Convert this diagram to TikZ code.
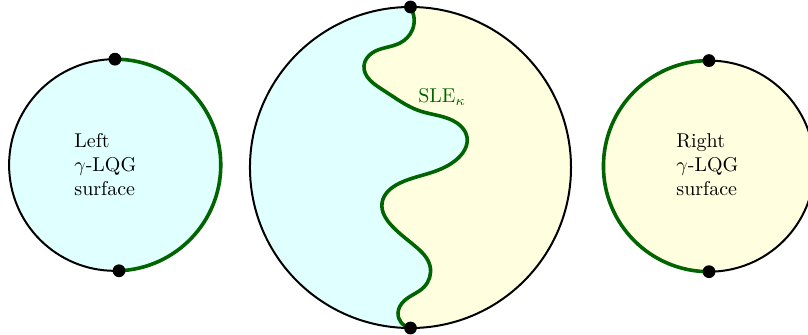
\documentclass[tikz,border=0pt]{standalone}
\usepackage{amsmath,amssymb}
\usepackage{xcolor}
\usetikzlibrary{calc,hobby}
\definecolor{lqgcyan}{RGB}{224,255,255}
\definecolor{lqgyellow}{RGB}{255,255,224}
\definecolor{slegreen}{RGB}{0,100,0}

\begin{document}
\begin{tikzpicture}
  \tikzstyle{disk}=[draw,line width=1pt]
  \tikzstyle{sle}=[draw=slegreen,line width=1.8pt]
  \tikzstyle{pt}=[circle,fill=black,inner sep=0pt,minimum size=6.4pt]
  \tikzstyle{lbl}=[align=left,anchor=west,inner sep=0pt]
  \useasboundingbox (0,0) rectangle (14.20,5.87);
  \coordinate (L) at (2.02,2.97);
  \coordinate (M) at (7.214,2.926);
  \coordinate (R) at (12.46,2.95);
  % points of the curve
  \foreach \i/\p in {1/{7.211,5.741},2/{7.246,5.343},3/{7.030,5.114},4/{6.538,4.938},5/{6.397,4.710},
    6/{6.731,4.288},7/{7.381,3.919},8/{8.032,3.708},9/{8.207,3.462},10/{8.014,3.058},
    11/{7.610,2.847},12/{7.030,2.654},13/{6.714,2.302},14/{6.889,1.898},15/{7.300,1.540},
    16/{7.557,1.195},17/{7.452,0.826},18/{7.100,0.580},19/{6.995,0.369},20/{7.214,0.105}}
    \coordinate (c\i) at (\p);
  % left surface
  \fill[lqgcyan] (L) circle (1.86);
  \draw[disk] (L) circle (1.86);
  \draw[sle] ($(L)+(90:1.86)$) arc[start angle=90,end angle=-87.8,radius=1.86];
  \node[pt] (ltop) at ($(L)+(90:1.86)$) {};
  \node[pt] (lbot) at ($(L)+(-87.8:1.86)$) {};
  \node[lbl] (ltext) at (1.30,2.97) {Left\\$\gamma$-LQG\\surface};
  % middle disk cut by the curve
  \fill[lqgcyan] (M) circle (2.821);
  \begin{scope}
    \clip (M) circle (2.821);
    \fill[lqgyellow,use Hobby shortcut] (c1) .. (c2) .. (c3) .. (c4) .. (c5) .. (c6) .. (c7) .. (c8) .. (c9) .. (c10)
      .. (c11) .. (c12) .. (c13) .. (c14) .. (c15) .. (c16) .. (c17) .. (c18) .. (c19) .. (c20)
      -- (10.1,0.105) -- (10.1,5.75) -- (c1);
  \end{scope}
  \draw[disk] (M) circle (2.821);
  \draw[sle,use Hobby shortcut] (c1) .. (c2) .. (c3) .. (c4) .. (c5) .. (c6) .. (c7) .. (c8) .. (c9) .. (c10)
    .. (c11) .. (c12) .. (c13) .. (c14) .. (c15) .. (c16) .. (c17) .. (c18) .. (c19) .. (c20);
  \node[pt] (mtop) at ($(M)+(90:2.821)$) {};
  \node[pt] (mbot) at ($(M)+(-90:2.821)$) {};
  \node[text=slegreen] (sle) at (7.77,4.17) {SLE$_\kappa$};
  % right surface
  \fill[lqgyellow] (R) circle (1.855);
  \draw[disk] (R) circle (1.855);
  \draw[sle] ($(R)+(90:1.855)$) arc[start angle=90,end angle=270,radius=1.855];
  \node[pt] (rtop) at ($(R)+(90:1.855)$) {};
  \node[pt] (rbot) at ($(R)+(-90:1.855)$) {};
  \node[lbl] (rtext) at (11.88,2.97) {Right\\$\gamma$-LQG\\surface};
\end{tikzpicture}
\end{document}
